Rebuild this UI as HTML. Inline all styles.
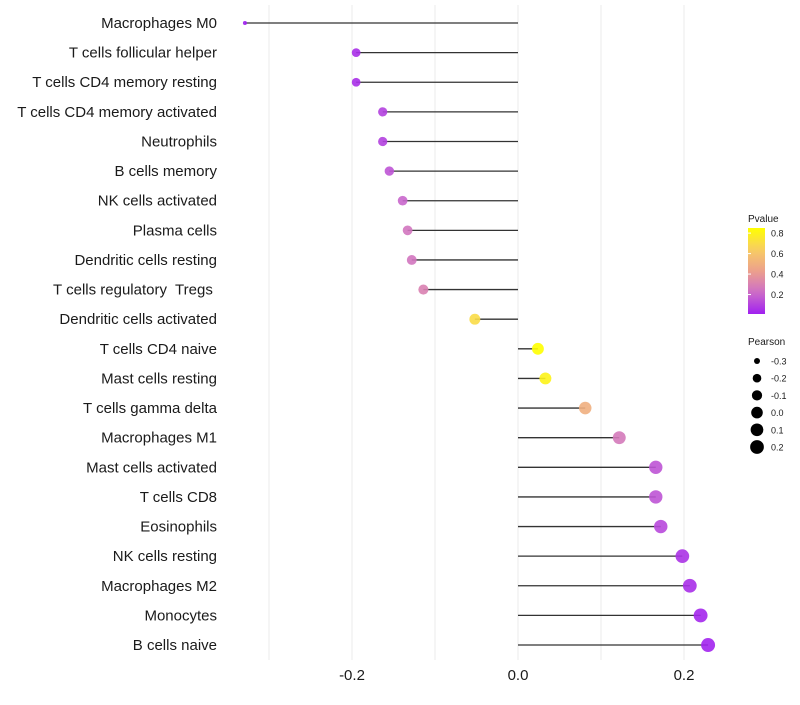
<!DOCTYPE html>
<html><head><meta charset="utf-8"><style>
body{margin:0;background:#fff;font-family:"Liberation Sans",sans-serif}
text{white-space:pre}
</style></head><body>
<svg id="c" width="800" height="700" xmlns="http://www.w3.org/2000/svg" font-family="Liberation Sans, sans-serif"></svg>
<script>
const categories=["Macrophages M0","T cells follicular helper","T cells CD4 memory resting","T cells CD4 memory activated","Neutrophils","B cells memory","NK cells activated","Plasma cells","Dendritic cells resting","T cells regulatory  Tregs ","Dendritic cells activated","T cells CD4 naive","Mast cells resting","T cells gamma delta","Macrophages M1","Mast cells activated","T cells CD8","Eosinophils","NK cells resting","Macrophages M2","Monocytes","B cells naive"];
const pearson=[-0.329,-0.195,-0.195,-0.163,-0.163,-0.155,-0.139,-0.133,-0.128,-0.114,-0.052,0.024,0.033,0.081,0.122,0.166,0.166,0.172,0.198,0.207,0.220,0.229];
const pvalue=[0.01,0.05,0.05,0.1,0.1,0.15,0.2,0.25,0.25,0.3,0.7,0.85,0.8,0.5,0.27,0.15,0.15,0.12,0.06,0.05,0.03,0.02];
const xTicks=[-0.2,0,0.2];
const xTickLabels=["-0.2","0.0","0.2"];
const xMinor=[-0.3,-0.1,0.1];
const pTicks=[0.8,0.6,0.4,0.2];
const sizeTicks=[-0.3,-0.2,-0.1,0.0,0.1,0.2];

const svg=document.getElementById('c');const NS="http://www.w3.org/2000/svg";
function mk(t,a,name,p){const e=document.createElementNS(NS,t);for(const k in a)e.setAttribute(k,a[k]);


(p||svg).appendChild(e);return e;}
const x=v=>518+v*830;
const y=i=>23+i*29.62;
const r=v=>1.8+5.2*Math.sqrt(Math.max(0,(v+0.33)/0.56));
function col(p){const t=Math.max(0,Math.min(1,(p-0.01)/0.84));
const stops=[[160,32,240],[205,110,200],[236,160,140],[248,205,100],[255,255,0]];
const s=t*4,i=Math.min(3,Math.floor(s)),f=s-i;const a=stops[i],b=stops[i+1];
return `rgb(${a.map((c,k)=>Math.round(c+(b[k]-c)*f)).join(',')})`;}
[...xTicks,...xMinor].forEach(v=>mk('line',{x1:x(v),x2:x(v),y1:5,y2:660,stroke:'#ebebeb','stroke-width':1},'x-gridline'));
xTicks.forEach((v,i)=>{const t=mk('text',{x:x(v),y:680,'text-anchor':'middle','font-size':15,fill:'#1a1a1a'},'x-tick-label');t.textContent=xTickLabels[i];});
categories.forEach((c,i)=>{
const t=mk('text',{x:217,y:y(i)+5,'text-anchor':'end','font-size':15,fill:'#1a1a1a'},'y-category-label');t.textContent=c;
mk('line',{x1:x(0),x2:x(pearson[i]),y1:y(i),y2:y(i),stroke:'#333','stroke-width':1.3},'lollipop-stem');
mk('circle',{cx:x(pearson[i]),cy:y(i),r:r(pearson[i]),fill:col(pvalue[i]),'fill-opacity':0.9},'lollipop-point');
});
let tt=mk('text',{x:748,y:222,'font-size':10,fill:'#1a1a1a'},'pvalue-legend-title');tt.textContent='Pvalue';
const defs=mk('defs',{},'defs');const g=mk('linearGradient',{id:'pg',x1:0,y1:1,x2:0,y2:0},'gradient',defs);
for(let k=0;k<=10;k++){const p=0.01+k*0.084;mk('stop',{offset:k/10,'stop-color':col(p)},'gradient-stop',g);}
mk('rect',{x:748,y:228,width:17,height:86,fill:'url(#pg)'},'pvalue-colorbar');
const py=p=>314-(p-0.01)/0.84*86;
pTicks.forEach(p=>{mk('line',{x1:748,x2:751,y1:py(p),y2:py(p),stroke:'#fff'},'colorbar-tick');
const t=mk('text',{x:771,y:py(p)+3.5,'font-size':9,fill:'#1a1a1a'},'colorbar-label');t.textContent=p.toFixed(1);});
tt=mk('text',{x:748,y:345,'font-size':10,fill:'#1a1a1a'},'pearson-legend-title');tt.textContent='Pearson';
sizeTicks.forEach((v,i)=>{const yy=361+i*17.2;mk('circle',{cx:757,cy:yy,r:r(v),fill:'#000'},'size-legend-key');
const t=mk('text',{x:771,y:yy+3.5,'font-size':9,fill:'#1a1a1a'},'size-legend-label');t.textContent=v.toFixed(1);});
</script>
</body></html>
